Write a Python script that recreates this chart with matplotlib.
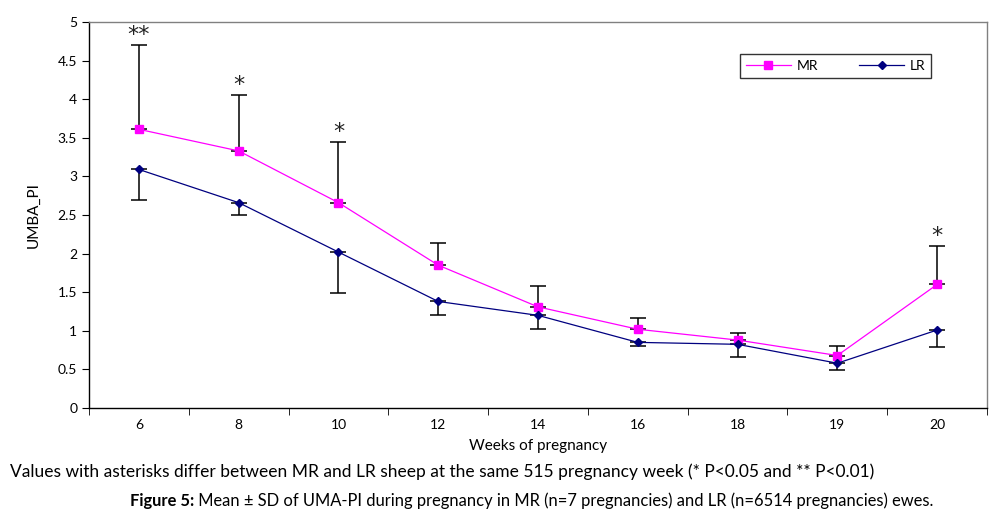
import matplotlib
matplotlib.use("Agg")
import matplotlib.pyplot as plt
import numpy as np

weeks = ["6", "8", "10", "12", "14", "16", "18", "19", "20"]
mr_mean = [3.61, 3.33, 2.66, 1.85, 1.31, 1.02, 0.88, 0.68, 1.60]
mr_upper = [4.70, 4.05, 3.45, 2.14, 1.58, 1.17, 0.97, 0.80, 2.10]
lr_mean = [3.09, 2.66, 2.02, 1.38, 1.20, 0.85, 0.825, 0.58, 1.01]
lr_lower = [2.70, 2.50, 1.49, 1.21, 1.02, 0.80, 0.66, 0.49, 0.79]
stars = {"6": "**", "8": "*", "10": "*", "20": "*"}

plt.rcParams['font.family'] = ['Lato', 'DejaVu Sans']

fig = plt.figure(figsize=(10.05, 5.22), dpi=100)
ax = fig.add_axes([89/1005, (522-408)/522, (987-89)/1005, (408-22)/522])

x = np.arange(len(weeks))
mr_err = np.array(mr_upper) - np.array(mr_mean)
lr_err = np.array(lr_mean) - np.array(lr_lower)

ax.errorbar(x, mr_mean, yerr=[np.zeros_like(mr_err), mr_err], fmt='none',
            ecolor='black', elinewidth=1.1, capsize=6, capthick=1.1, zorder=2)
ax.errorbar(x, lr_mean, yerr=[lr_err, np.zeros_like(lr_err)], fmt='none',
            ecolor='black', elinewidth=1.1, capsize=6, capthick=1.1, zorder=2)
ax.plot(x, mr_mean, color='#ff00ff', lw=0.9, marker='s', ms=6, mec='#ff00ff',
        mfc='#ff00ff', label='MR', zorder=3)
ax.plot(x, lr_mean, color='#000080', lw=0.9, marker='D', ms=4, mec='#000080',
        mfc='#000080', label='LR', zorder=3)

for i, w in enumerate(weeks):
    if w in stars:
        ax.annotate(stars[w], (i, mr_upper[i]), xytext=(0, 0),
                    textcoords='offset points', ha='center', va='bottom',
                    fontsize=16, family='DejaVu Sans', color='#222222')

ax.set_xlim(-0.5, len(weeks) - 0.5)
ax.set_ylim(0, 5)
ax.set_yticks(np.arange(0, 5.01, 0.5))
ax.set_yticklabels(["0", "0.5", "1", "1.5", "2", "2.5", "3", "3.5", "4", "4.5", "5"])
ax.set_xticks(x)
ax.set_xticklabels(weeks)
ax.set_xticks(np.arange(-0.5, len(weeks)), minor=True)
ax.tick_params(axis='x', which='major', length=0, labelsize=10, pad=8)
ax.tick_params(axis='x', which='minor', length=5, direction='out')
ax.tick_params(axis='y', length=5, direction='out', labelsize=10)

for s in ['left', 'bottom']:
    ax.spines[s].set_color('black')
    ax.spines[s].set_linewidth(1)
for s in ['top', 'right']:
    ax.spines[s].set_color('#808080')
    ax.spines[s].set_linewidth(1)

ax.set_ylabel("UMBA_PI", fontsize=11, labelpad=12)
ax.set_xlabel("Weeks of pregnancy", fontsize=11, labelpad=6)

leg = ax.legend(loc='upper left', bbox_to_anchor=((740-89)/898, (408-54)/386),
                ncol=2, frameon=True, fancybox=False, edgecolor='black',
                fontsize=10, handlelength=3.2, columnspacing=3.0, borderpad=0.45,
                handletextpad=0.4, borderaxespad=0)
leg.get_frame().set_linewidth(1)

fig.text(10/1005, 1 - 472/522,
         "Values with asterisks differ between MR and LR sheep at the same 515 pregnancy week (* P<0.05 and ** P<0.01)",
         fontsize=12.5, va='center', ha='left')

# caption: bold part + regular part
fig.canvas.draw()
renderer = fig.canvas.get_renderer()
t1 = fig.text(0, 1 - 501/522, "Figure 5:", fontsize=11.9, fontweight='bold',
              va='center', ha='left')
t2 = fig.text(0, 1 - 501/522, " Mean ± SD of UMA-PI during pregnancy in MR (n=7 pregnancies) and LR (n=6514 pregnancies) ewes.",
              fontsize=11.9, va='center', ha='left')
w1 = t1.get_window_extent(renderer).width
w2 = t2.get_window_extent(renderer).width
start = 532 - (w1 + w2) / 2
t1.set_x(start / 1005)
t2.set_x((start + w1) / 1005)

fig.savefig("out.png", dpi=100)
